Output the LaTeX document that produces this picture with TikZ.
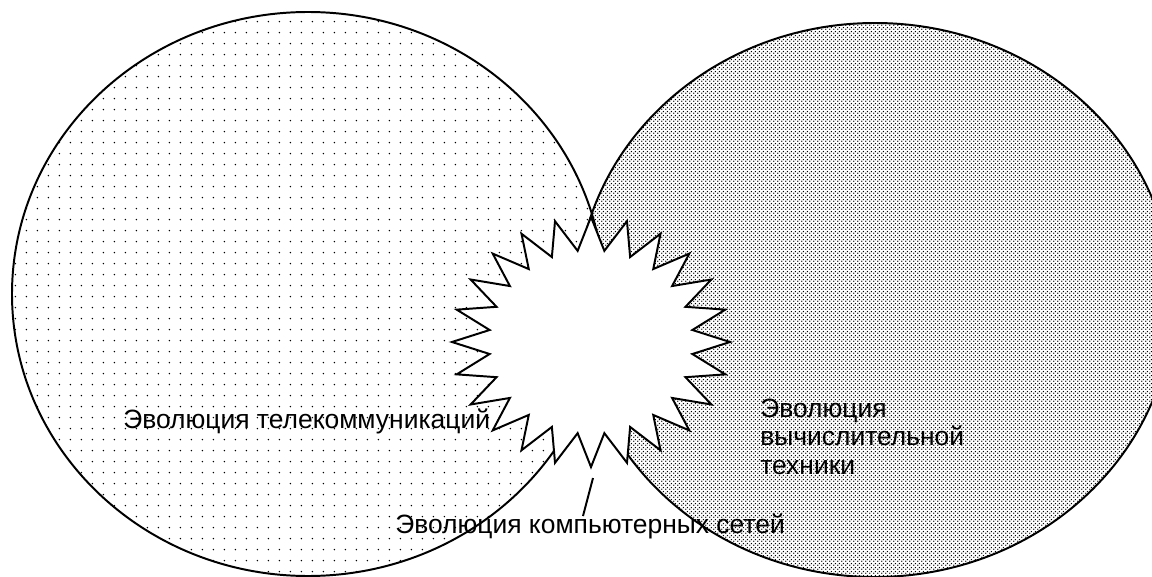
\documentclass[tikz,border=0pt]{standalone}
\usepackage{fontspec}
\setmainfont{Liberation Sans}
\usetikzlibrary{patterns,shapes.geometric}
\pgfdeclarepatternformonly{sparsedots}{\pgfqpoint{0pt}{0pt}}{\pgfqpoint{7.8pt}{7.8pt}}{\pgfqpoint{7.8pt}{7.8pt}}{%
	\pgfpathcircle{\pgfqpoint{3.9pt}{3.9pt}}{0.55pt}\pgfusepath{fill}}
\pgfdeclarepatternformonly{densedots}{\pgfqpoint{0pt}{0pt}}{\pgfqpoint{2.85pt}{2.85pt}}{\pgfqpoint{2.85pt}{2.85pt}}{%
	\pgfpathcircle{\pgfqpoint{0.71pt}{0.71pt}}{0.62pt}
	\pgfpathcircle{\pgfqpoint{2.13pt}{2.13pt}}{0.62pt}\pgfusepath{fill}}
\tikzset{
 field/.style={
 draw=black,
 line width=1.4pt
 },
 burst/.style={
 star,
 star points=24,
 star point ratio=1.36,
 draw=black,
 fill=white,
 line width=1.4pt,
 inner sep=0pt,
 outer sep=0pt,
 minimum size=6.25cm
 },
 lbl/.style={
 inner sep=0pt,
 align=left,
 font=\fontsize{18.8}{20}\selectfont
 },
 tick/.style={line width=1.4pt, draw=black}
}

\begin{document}
\begin{tikzpicture}[x=0.025cm, y=-0.025cm]
	\useasboundingbox (0,0) rectangle (1152,577);
	\clip (0,0) rectangle (1152,577);

	\draw[field, pattern=sparsedots] (308,294) ellipse [x radius=296, y radius=282];
	\draw[field, pattern=densedots] (875,300) ellipse [x radius=298, y radius=277];

	\node[burst, xscale=1.112] (burst) at (591,342) {};

	\node[lbl, anchor=base west] (telelabel) at (123,428) {Эволюция телекоммуникаций};
	\node[lbl, anchor=base west] (complabel) at (760,474) {Эволюция\\вычислительной\\техники};
	\node[lbl, anchor=base west] (netlabel) at (395,533) {Эволюция компьютерных сетей};

	\coordinate (nettop) at (593,478);
	\coordinate (netfoot) at (583,516);
	\draw[tick] (nettop) -- (netfoot);
\end{tikzpicture}
\end{document}
